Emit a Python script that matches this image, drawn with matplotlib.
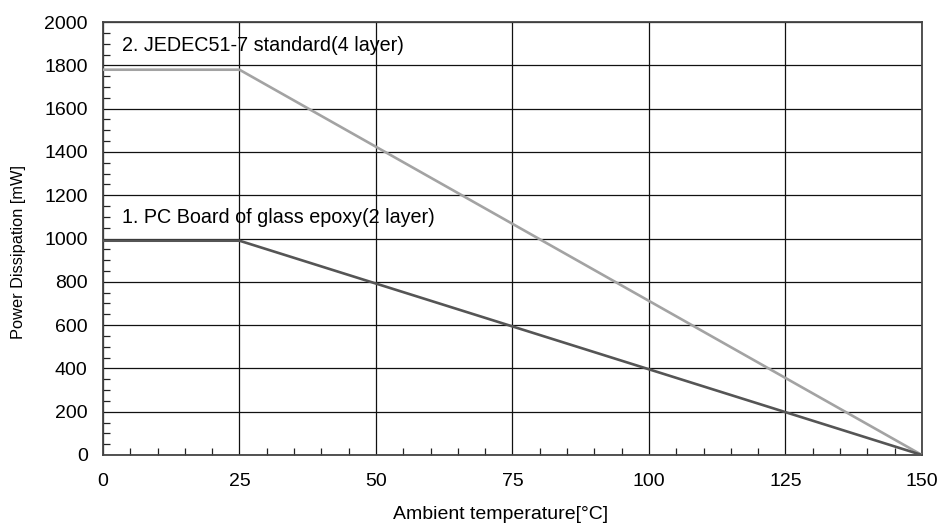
import matplotlib
matplotlib.use("Agg")
import matplotlib.pyplot as plt
from matplotlib.ticker import MultipleLocator

plt.rcParams['font.family'] = ['Liberation Sans', 'DejaVu Sans']

# derating curves
temp = [0, 25, 150]
jedec_mw = [1780, 1780, 0]
pcb_mw = [990, 990, 0]

jedec_label = "2. JEDEC51-7 standard(4 layer)"
pcb_label = "1. PC Board of glass epoxy(2 layer)"

fig = plt.figure(figsize=(9.38, 5.26), dpi=100)
ax = fig.add_axes([0.1098, 0.135, 0.873, 0.823])

ax.plot(temp, jedec_mw, color='#a3a3a3', linewidth=1.9, solid_capstyle='butt', zorder=3)
ax.plot(temp, pcb_mw, color='#555555', linewidth=1.9, solid_capstyle='butt', zorder=3)

ax.text(3.5, 1894, jedec_label, fontsize=14.2, va='center', ha='left')
ax.text(3.5, 1095, pcb_label, fontsize=14.2, va='center', ha='left')

ax.set_xlim(0, 150)
ax.set_ylim(0, 2000)
ax.xaxis.set_major_locator(MultipleLocator(25))
ax.xaxis.set_minor_locator(MultipleLocator(5))
ax.yaxis.set_major_locator(MultipleLocator(200))
ax.yaxis.set_minor_locator(MultipleLocator(50))

ax.grid(True, which='major', color='#111111', linewidth=0.9)
ax.tick_params(which='major', length=0, labelsize=14)
ax.tick_params(axis='x', which='major', pad=13)
ax.tick_params(axis='y', which='major', pad=11)
ax.tick_params(which='minor', direction='in', length=5, width=0.9, color='#222222')

for s in ax.spines.values():
    s.set_color('#444444')
    s.set_linewidth(1.3)

ax.set_xlabel("Ambient temperature[°C]", fontsize=14)
ax.set_ylabel("Power Dissipation [mW]", fontsize=11.8)
ax.xaxis.set_label_coords(0.486, -0.118)
ax.yaxis.set_label_coords(-0.094, 0.469)

fig.savefig("out.png", dpi=100)
